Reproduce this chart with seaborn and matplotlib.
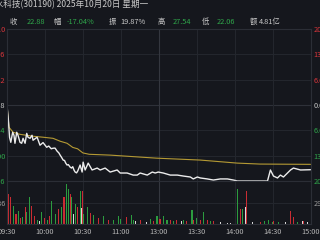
import matplotlib
matplotlib.use("Agg")
import matplotlib.pyplot as plt
import seaborn as sns
import pandas as pd

# ---------------- data ----------------
price_min = [0, 1, 2, 3, 4.5, 5.5, 6.3, 7.7, 8.7, 10.3, 11.6, 12.7, 14.3, 15.6, 16.6, 18.2,
             19.8, 20.6, 23.8, 26.1, 28.5, 31.4, 33, 35, 36.4, 38, 39.6, 41, 42, 43, 44.4,
             45.5, 46.5, 47.5, 48.5, 49.9, 51, 52, 53, 53.9, 55, 56, 57.8, 59.4, 60.2, 61.8,
             64.2, 67.3, 71.3, 73.7, 77.6, 81.6, 87.1, 89.5, 95, 99.8, 103, 105.3, 110.9,
             114.9, 117.2, 119.6, 123.6, 129.1, 134.7, 139.4, 145, 147.3, 150.5, 152.9,
             158.4, 163.2, 168.7, 174.3, 179, 182.2, 190, 200, 206, 208.3, 210.7, 213.9,
             216.2, 218.6, 224.2, 226.5, 232.1, 240]
price_val = [27.54, 26.60, 25.24, 24.87, 25.60, 25.38, 24.80, 25.60, 25.38, 24.87, 24.80, 25.16,
             24.80, 25.52, 25.24, 25.16, 25.38, 25.02, 25.24, 24.66, 24.85, 24.51, 24.60, 24.40,
             24.44, 24.45, 24.23, 24.10, 23.94, 23.80, 23.58, 23.55, 23.35, 23.22, 23.25, 23.07,
             23.00, 23.10, 22.85, 22.71, 22.65, 22.80, 23.22, 22.71, 23.43, 22.86, 23.36, 22.86,
             23.00, 22.86, 23.00, 22.71, 22.86, 22.64, 22.64, 22.49, 22.49, 22.64, 22.49, 22.71,
             22.64, 22.71, 22.64, 22.49, 22.49, 22.42, 22.35, 22.21, 22.35, 22.28, 22.21, 22.13,
             22.21, 22.21, 22.13, 22.06, 22.06, 22.06, 22.06, 22.86, 22.42, 22.28, 22.49, 22.35,
             22.86, 23.00, 22.86, 22.88]
avg_min = [0, 1.6, 4.8, 10.3, 20.6, 28.5, 36.4, 42, 47.5, 52, 55.8, 60, 65, 81.6, 118, 152.9,
           182, 200, 240]
avg_val = [27.54, 25.96, 25.60, 25.45, 25.31, 25.24, 25.16, 24.95, 24.80, 24.50, 24.40, 24.10,
           24.00, 23.94, 23.72, 23.58, 23.36, 23.29, 23.27]

vol_min = [1.3, 2.9, 5.0, 7.1, 9.0, 10.8, 12.5, 14.3, 15.6, 17.7, 19.5, 22.0, 24.0, 25.6, 27.5,
           30.0, 31.8, 33.5, 35.4, 38.0, 40.6, 43.3, 45.1, 46.7, 48.6, 49.9, 51.2, 52.5, 53.9,
           55.7, 57.8, 59.0, 60.0, 60.8, 63.4, 66.1, 68.7, 72.6, 76.6, 80.5, 84.0, 88.0, 89.5,
           94.8, 98.7, 100.0, 101.4, 105.3, 110.6, 113.3, 115.9, 118.6, 121.0, 123.8, 126.5,
           129.0, 131.8, 134.4, 138.3, 139.7, 142.3, 146.3, 147.6, 150.2, 152.9, 155.5, 158.2,
           160.8, 163.4, 168.7, 174.0, 176.6, 182.0, 184.6, 185.9, 188.3, 189.3, 194.0, 200.4,
           203.5, 206.7, 209.6, 211.0, 215.0, 220.0, 224.0, 226.8, 230.0, 233.4, 234.7, 237.5]
vol_val = [41, 37, 25, 14, 18, 8, 10, 23, 16, 37, 25, 11, 6, 4, 16,
           8, 5, 11, 31, 14, 20, 23, 37, 55, 48, 41, 37, 14, 27,
           23, 45, 22, 45, 14, 23, 15, 12, 8, 11, 6, 5, 11, 7,
           10, 12, 5, 4, 5, 3, 7, 4, 11, 7, 11, 6,
           6, 4, 5, 4, 6, 4, 19, 6, 8, 6, 16, 5,
           4, 4, 3, 2, 2, 48, 20, 21, 23, 45, 3, 3,
           4, 6, 3, 4, 3, 3, 18, 9, 3, 4, 4, 3]
vol_dir = ["r", "r", "g", "r", "g", "r", "g", "r", "g", "g", "r", "r", "g", "w", "g",
           "r", "g", "r", "g", "g", "r", "g", "r", "g", "g", "r", "g", "w", "g",
           "r", "g", "w", "r", "g", "g", "r", "g", "r", "g", "r", "g", "g", "g",
           "r", "g", "g", "w", "r", "w", "g", "r", "g", "r", "g", "g",
           "r", "g", "r", "w", "g", "r", "g", "r", "g", "r", "g", "r",
           "g", "r", "w", "w", "w", "g", "r", "g", "w", "r", "w", "r",
           "g", "g", "g", "r", "g", "w", "r", "r", "g", "w", "r", "w"]

time_ticks = [0, 30, 60, 90, 120, 150, 180, 210, 240]
time_labels = ["09:30", "10:00", "10:30", "11:00", "13:00", "13:30", "14:00", "14:30", "15:00"]
price_levels = [33.10, 31.26, 29.42, 27.58, 25.74, 23.90, 22.06]
left_labels = ["33.10", "31.26", "29.42", "27.58", "25.74", "23.90", "22.06"]
right_labels = ["20.00%", "13.33%", "6.67%", "0.00%", "6.67%", "13.33%", "20.00%"]
level_kind = ["up", "up", "up", "flat", "down", "down", "down"]
vol_mid = 29.36
vol_top = 58.72
vol_left_label = "29.36"
vol_right_label = "29.36万"

title_text = "善水科技(301190) 2025年10月20日 星期一"
stat_names = ["收", "幅", "振", "高", "低", "额"]
stat_values = ["22.88", "-17.04%", "19.87%", "27.54", "22.06", "4.81亿"]
stat_kind = ["down", "down", "flat", "down", "down", "flat"]

# ---------------- style ----------------
BG = "#15171d"
FRAME = "#2b2e36"
GRID = "#23262d"
RED = "#d8353b"
GREEN = "#2fa54a"
TXT = "#c9c9c9"
kind_color = {"up": RED, "down": GREEN, "flat": TXT}
bar_color = {"r": "#c92c33", "g": "#2c9c3f", "w": "#d9d9d9"}

sns.set_theme(style="dark")
plt.rcParams["font.family"] = ["Noto Sans CJK SC", "DejaVu Sans"]

W, H = 320, 240
fig = plt.figure(figsize=(3.2, 2.4), dpi=100, facecolor=BG)


def box(x0, y0, x1, y1):
    return [x0 / W, 1 - y1 / H, (x1 - x0) / W, (y1 - y0) / H]


ax = fig.add_axes(box(7, 29, 310.5, 181))
axv = fig.add_axes(box(7, 181, 310.5, 224))

for a in (ax, axv):
    a.set_facecolor(BG)
    for s in a.spines.values():
        s.set_visible(True)
        s.set_color(FRAME)
        s.set_linewidth(0.8)
    a.set_xlim(0, 240)
    a.grid(False)

# price grid
ax.set_ylim(22.06, 33.10)
for lv in price_levels[1:-1]:
    ax.axhline(lv, color=GRID if lv != 27.58 else "#2e3139", lw=0.8, zorder=0)
for t in time_ticks[1:-1]:
    c = "#34373f" if t == 120 else GRID
    ax.axvline(t, color=c, lw=0.8, zorder=0)
    axv.axvline(t, color=c, lw=0.8, zorder=0)

df_p = pd.DataFrame({"m": price_min, "p": price_val})
df_a = pd.DataFrame({"m": avg_min, "p": avg_val})
sns.lineplot(data=df_a, x="m", y="p", ax=ax, color="#b59a34", lw=0.8, estimator=None, sort=False)
sns.lineplot(data=df_p, x="m", y="p", ax=ax, color="#ececec", lw=1.0, estimator=None, sort=False)
ax.set_xlabel("")
ax.set_ylabel("")
ax.set_xticks([])
ax.set_yticks(price_levels)
ax.set_yticklabels(left_labels)
ax.tick_params(axis="y", length=0, pad=1.0, labelsize=5.3)
for lab, k in zip(ax.get_yticklabels(), level_kind):
    lab.set_color(kind_color[k])

ax2 = ax.twinx()
ax2.set_ylim(ax.get_ylim())
ax2.set_yticks(price_levels)
ax2.set_yticklabels(right_labels)
ax2.tick_params(axis="y", length=0, pad=2.0, labelsize=5.3)
for lab, k in zip(ax2.get_yticklabels(), level_kind):
    lab.set_color(kind_color[k])
for s in ax2.spines.values():
    s.set_visible(False)
ax2.grid(False)

# volume
axv.set_ylim(0, vol_top)
axv.axhline(vol_mid, color=GRID, lw=0.8, zorder=0)
axv.bar(vol_min, vol_val, width=0.85, color=[bar_color[d] for d in vol_dir], linewidth=0, zorder=2)
axv.set_yticks([vol_mid])
axv.set_yticklabels([vol_left_label])
axv.tick_params(axis="y", length=0, pad=1.0, labelsize=5.3, labelcolor="#9a9a9a")
axv.set_xticks(time_ticks)
axv.set_xticklabels(time_labels)
axv.tick_params(axis="x", length=0, pad=3.0, labelsize=5.3, labelcolor="#b5b5b5")
axv2 = axv.twinx()
axv2.set_ylim(0, vol_top)
axv2.set_yticks([vol_mid])
axv2.set_yticklabels([vol_right_label])
axv2.tick_params(axis="y", length=0, pad=2.0, labelsize=5.3, labelcolor="#9a9a9a")
for s in axv2.spines.values():
    s.set_visible(False)
axv2.grid(False)

# header
fig.text(148 / W, 1 - 4.5 / H, title_text, ha="right", va="center", fontsize=6.2, color=TXT)
name_x = [10, 54, 109, 158, 202, 250]
val_x = [27, 67, 120, 173, 217, 259]
for nx, vx, n, v, k in zip(name_x, val_x, stat_names, stat_values, stat_kind):
    fig.text(nx / W, 1 - 22 / H, n, ha="left", va="center", fontsize=5.3, color=TXT)
    fig.text(vx / W, 1 - 22 / H, v, ha="left", va="center", fontsize=5.3, color=kind_color[k])

fig.savefig("out.png", dpi=100, facecolor=BG)
